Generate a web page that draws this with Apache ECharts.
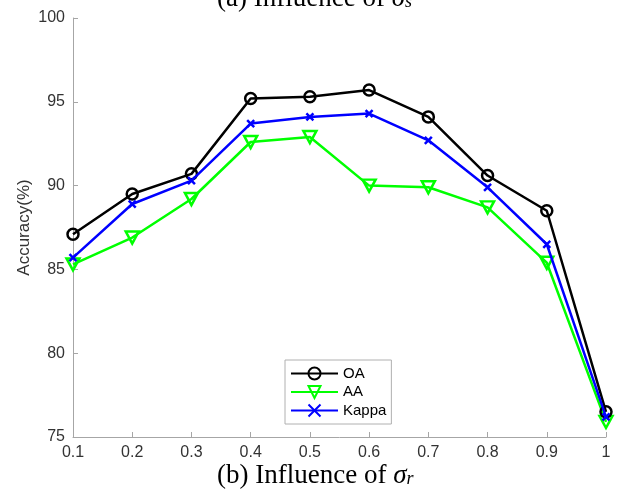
<!DOCTYPE html>
<html><head><meta charset="utf-8">
<script src="https://cdn.jsdelivr.net/npm/echarts@6/dist/echarts.min.js"></script>
<style>html,body{margin:0;padding:0;background:#fff}#c{width:622px;height:495px}</style>
</head><body><div id="c"></div>
<script>
const categories = ['0.1','0.2','0.3','0.4','0.5','0.6','0.7','0.8','0.9','1'];
const oa    = [87.1, 89.5, 90.7, 95.2, 95.3, 95.7, 94.1, 90.6, 88.5, 76.5];
const aa    = [85.3, 86.9, 89.2, 92.6, 92.9, 90.0, 89.9, 88.7, 85.4, 75.9];
const kappa = [85.7, 88.9, 90.3, 93.7, 94.1, 94.3, 92.7, 89.9, 86.5, 76.2];
const yTicks = [75, 80, 85, 90, 95, 100];

const chart = echarts.init(document.getElementById('c'), null, {renderer:'canvas'});
const axisCol = '#a6a6a6';
const labCol = '#333333';
const serif = '"Liberation Serif"';
function titleRich(){
  return {
    a:{fontFamily:serif, fontWeight:'normal', fontSize:27, color:'#000'},
    i:{fontFamily:serif, fontWeight:'normal', fontStyle:'italic', fontSize:27, color:'#000'},
    s:{fontFamily:serif, fontWeight:'normal', fontStyle:'italic', fontSize:18, color:'#000', padding:[8,0,0,0]}
  };
}
chart.setOption({
  animation:false,
  backgroundColor:'#fff',
  grid:{left:73, right:16, top:18, bottom:58},
  title:[
    {text:'{a|(a) Influence of }{i|σ}{s|s}', left:217, top:-15, padding:0,
     textStyle:{fontWeight:'normal', rich:titleRich()}},
    {text:'{a|(b) Influence of }{i|σ}{s|r}', left:217, top:462, padding:0,
     textStyle:{fontWeight:'normal', rich:titleRich()}}
  ],
  legend:{
    left:285, top:360, orient:'vertical', itemGap:3.5, itemWidth:47, itemHeight:15,
    backgroundColor:'#fff', borderColor:'#b0b0b0', borderWidth:1, padding:[6,5,6,5],
    textStyle:{fontFamily:'Liberation Sans', fontSize:15, color:'#000'},
    data:['OA','AA','Kappa']
  },
  xAxis:{
    type:'category', data:categories, boundaryGap:false,
    axisLine:{lineStyle:{color:axisCol, width:1}},
    axisTick:{inside:true, length:5, lineStyle:{color:axisCol}},
    axisLabel:{color:labCol, fontFamily:'Liberation Sans', fontSize:16, margin:8},
    splitLine:{show:false}
  },
  yAxis:{
    type:'value', min:75, max:100, interval:5,
    name:'Accuracy(%)', nameLocation:'middle', nameGap:40, nameMoveOverlap:false,
    nameTextStyle:{color:labCol, fontFamily:'Liberation Sans', fontSize:17},
    axisLine:{show:true, lineStyle:{color:axisCol, width:1}},
    axisTick:{show:true, inside:true, length:5, lineStyle:{color:axisCol}},
    axisLabel:{color:labCol, fontFamily:'Liberation Sans', fontSize:16, margin:8,
      formatter:v=>yTicks.includes(v)?String(v):''},
    splitLine:{show:false}
  },
  series:[
    {name:'OA', type:'line', data:oa, symbol:'circle', symbolSize:11, z:3,
     lineStyle:{color:'#000', width:2.5},
     itemStyle:{color:'rgba(255,255,255,0)', borderColor:'#000', borderWidth:2.5}},
    {name:'AA', type:'line', data:aa, symbol:'path://M0,0L10,0L5,9Z', symbolSize:[13,12], z:2,
     lineStyle:{color:'#00ff00', width:2.5},
     itemStyle:{color:'rgba(255,255,255,0)', borderColor:'#00ff00', borderWidth:2.5}},
    {name:'Kappa', type:'line', data:kappa, symbol:'path://M0,0L10,10M10,0L0,10', symbolSize:7, z:4,
     lineStyle:{color:'#0000ff', width:2.5},
     itemStyle:{color:'rgba(255,255,255,0)', borderColor:'#0000ff', borderWidth:2.5}}
  ]
});
</script></body></html>
